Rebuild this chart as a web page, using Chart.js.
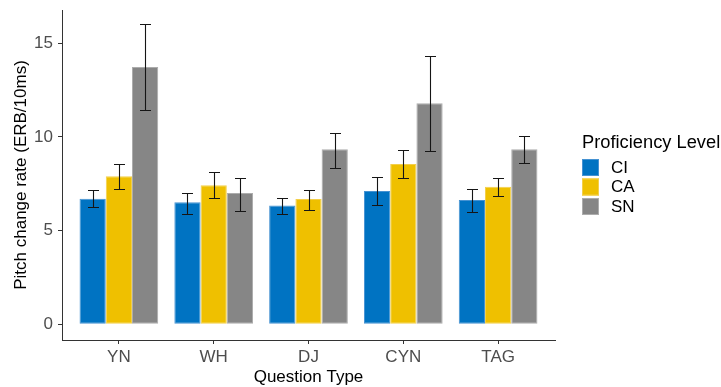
<!DOCTYPE html>
<html>
<head>
<meta charset="utf-8">
<script src="https://cdn.jsdelivr.net/npm/chart.js@4.4.1/dist/chart.umd.min.js"></script>
<style>
html, body { margin: 0; padding: 0; overflow: hidden; background: #fff; }
#wrap { width: 721px; height: 387px; overflow: hidden; }
</style>
</head>
<body>
<div id="wrap"><canvas id="chart" width="721" height="400"></canvas></div>
<script>
// Question types on the x axis
const CATEGORIES = ['YN', 'WH', 'DJ', 'CYN', 'TAG'];
const Y_TICKS = [0, 5, 10, 15];
const LEVELS = ['CI', 'CA', 'SN'];

// Means and error bar limits per proficiency level
const CI_MEAN = [6.70, 6.51, 6.34, 7.12, 6.64];
const CI_LOW  = [6.25, 5.89, 5.89, 6.39, 6.00];
const CI_HIGH = [7.17, 7.03, 6.74, 7.88, 7.21];

const CA_MEAN = [7.90, 7.42, 6.69, 8.56, 7.35];
const CA_LOW  = [7.20, 6.74, 6.12, 7.81, 6.85];
const CA_HIGH = [8.54, 8.11, 7.15, 9.31, 7.81];

const SN_MEAN = [13.74, 7.01, 9.34, 11.80, 9.34];
const SN_LOW  = [11.43, 6.07, 8.37, 9.25, 8.60];
const SN_HIGH = [16.05, 7.81, 10.23, 14.31, 10.04];

const FONT = "'Liberation Sans', Arial, sans-serif";

// Builds the {x, y} points for a bar series
const toPoints = (values) => values.map((v, i) => ({ x: i, y: v }));

// Draws the error bars over every bar
const errorBars = {
    id: 'errorBars',
    afterDatasetsDraw(chart) {
        const ctx = chart.ctx;
        const y = chart.scales.y;
        ctx.save();
        ctx.strokeStyle = '#151515';
        ctx.lineWidth = 1.1;
        chart.data.datasets.forEach((ds, d) => {
            chart.getDatasetMeta(d).data.forEach((bar, i) => {
                const x = Math.round(bar.x) + 0.5;
                const top = Math.round(y.getPixelForValue(ds.errHigh[i])) + 0.5;
                const bot = Math.round(y.getPixelForValue(ds.errLow[i])) + 0.5;
                const half = 5.5;
                ctx.beginPath();
                ctx.moveTo(x, top); ctx.lineTo(x, bot);
                ctx.moveTo(x - half, top); ctx.lineTo(x + half, top);
                ctx.moveTo(x - half, bot); ctx.lineTo(x + half, bot);
                ctx.stroke();
            });
        });
        ctx.restore();
    }
};

// Legend in the ggplot style, drawn at the right of the plot
const sideLegend = {
    id: 'sideLegend',
    afterDraw(chart) {
        const ctx = chart.ctx;
        ctx.save();
        ctx.fillStyle = '#000';
        ctx.textBaseline = 'alphabetic';
        ctx.textAlign = 'left';
        ctx.font = `18.3px ${FONT}`;
        ctx.fillText('Proficiency Level', 582, 148);
        ctx.font = `17px ${FONT}`;
        ctx.textBaseline = 'middle';
        chart.data.datasets.forEach((ds, d) => {
            const top = 159 + d * 19.5;
            ctx.fillStyle = ds.backgroundColor;
            ctx.fillRect(582, top, 17, 17);
            ctx.strokeStyle = ds.borderColor;
            ctx.lineWidth = 1;
            ctx.strokeRect(582.5, top + 0.5, 16, 16);
            ctx.fillStyle = '#000';
            ctx.fillText(ds.label, 611, top + 9);
        });
        ctx.restore();
    }
};

const series = [
    { mean: CI_MEAN, low: CI_LOW, high: CI_HIGH, fill: '#0073C2', edge: '#4592d2' },
    { mean: CA_MEAN, low: CA_LOW, high: CA_HIGH, fill: '#EFC000', edge: '#f3cf4a' },
    { mean: SN_MEAN, low: SN_LOW, high: SN_HIGH, fill: '#868686', edge: '#acacac' }
];

new Chart(document.getElementById('chart'), {
    type: 'bar',
    data: {
        datasets: series.map((s, d) => ({
            label: LEVELS[d],
            data: toPoints(s.mean),
            errLow: s.low,
            errHigh: s.high,
            backgroundColor: s.fill,
            borderColor: s.edge,
            borderWidth: 1,
            borderSkipped: false,
            categoryPercentage: 0.83,
            barPercentage: 1
        }))
    },
    options: {
        responsive: false,
        animation: false,
        layout: { padding: { top: 10, right: 166, bottom: 0, left: 0 } },
        plugins: {
            legend: { display: false },
            tooltip: { enabled: false }
        },
        scales: {
            x: {
                type: 'linear',
                min: -0.6,
                max: 4.6,
                offset: false,
                afterBuildTicks: (scale) => { scale.ticks = CATEGORIES.map((c, i) => ({ value: i })); },
                afterFit: (scale) => {
                    scale.height = 60;
                    scale.paddingLeft = 0;
                    scale.paddingRight = 0;
                },
                ticks: {
                    callback: (value, index) => CATEGORIES[index],
                    color: '#4d4d4d',
                    font: { family: FONT, size: 17 },
                    padding: 3,
                    maxRotation: 0,
                    autoSkip: false
                },
                grid: { offset: false, drawOnChartArea: false, drawTicks: true, tickLength: 4, color: '#333' },
                border: { display: true, color: '#333', width: 1 },
                title: {
                    display: true,
                    text: 'Question Type',
                    color: '#000',
                    font: { family: FONT, size: 17 },
                    padding: { top: 0, bottom: 12 }
                }
            },
            y: {
                min: -0.838,
                max: 16.78,
                afterBuildTicks: (scale) => { scale.ticks = Y_TICKS.map(v => ({ value: v })); },
                afterFit: (scale) => {
                    scale.width = 62;
                    scale.paddingTop = 0;
                    scale.paddingBottom = 0;
                },
                ticks: {
                    color: '#4d4d4d',
                    font: { family: FONT, size: 17 },
                    padding: 5
                },
                grid: { drawOnChartArea: false, drawTicks: true, tickLength: 4, color: '#333' },
                border: { display: true, color: '#333', width: 1 },
                title: {
                    display: true,
                    text: 'Pitch change rate (ERB/10ms)',
                    color: '#000',
                    font: { family: FONT, size: 17 },
                    padding: { top: 11, bottom: 0 }
                }
            }
        }
    },
    plugins: [errorBars, sideLegend]
});
</script>
</body>
</html>
